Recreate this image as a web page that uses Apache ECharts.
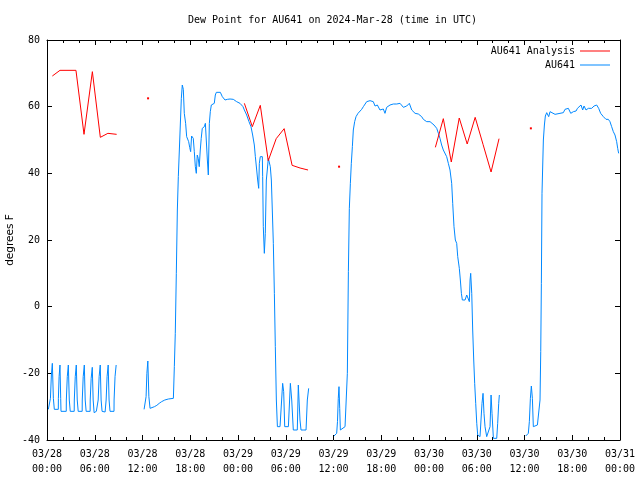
<!DOCTYPE html>
<html><head><meta charset="utf-8">
<script src="https://cdn.jsdelivr.net/npm/echarts@6/dist/echarts.min.js"></script>
<style>html,body{margin:0;padding:0;background:#fff}#c{width:640px;height:480px}</style>
</head><body><div id="c"></div>
<script>
// x values are hours since 2024-03-28 00:00 UTC
const xTickLabels = ['03/28\n00:00','03/28\n06:00','03/28\n12:00','03/28\n18:00','03/29\n00:00','03/29\n06:00','03/29\n12:00','03/29\n18:00','03/30\n00:00','03/30\n06:00','03/30\n12:00','03/30\n18:00','03/31\n00:00'];
const yTicks = [-40,-20,0,20,40,60,80];

const analysisA = [[0.67,69.2],[1.63,70.9],[2.64,70.9],[3.64,70.9],[4.65,51.7],[5.7,70.5],[6.7,50.8],[7.65,52],[8.75,51.7]];
const analysisB = [[24.8,61],[25.8,54],[26.8,60.4],[27.8,43.8],[28.8,50.4],[29.8,53.4],[30.8,42.4],[31.8,41.6],[32.8,41]];
const analysisC = [[48.8,47.8],[49.8,56.4],[50.8,43.4],[51.8,56.6],[52.8,48.8],[53.8,56.8],[54.8,48.6],[55.8,40.4],[56.8,50.4]];
const analysisDots = [[12.7,62.5],[36.7,42],[60.8,53.5]];

const obsA = [[0.17,-30.8],[0.42,-30.8],[0.43,-27.5],[0.55,-20.5],[0.67,-17],[0.8,-27.5],[0.92,-30.8],
 [1.42,-30.8],[1.43,-27.5],[1.52,-21],[1.63,-17.5],[1.72,-27.5],[1.76,-31.4],
 [2.42,-31.4],[2.43,-28],[2.55,-21],[2.68,-17.5],[2.8,-28],[2.92,-31.4],
 [3.42,-31.4],[3.43,-28],[3.55,-21],[3.68,-17.5],[3.8,-28],[3.92,-31.4],
 [4.42,-31.4],[4.43,-28],[4.55,-21],[4.69,-17.5],[4.8,-28],[4.92,-31.4],
 [5.42,-31.4],[5.43,-28],[5.55,-21.5],[5.69,-18.2],[5.8,-28],[5.92,-31.8],[6.1,-31.8],[6.2,-31.4],
 [6.42,-31.4],[6.43,-28],[6.55,-21],[6.69,-17.5],[6.8,-28],[6.92,-31.4],
 [7.3,-31.6],[7.42,-32],[7.43,-28],[7.55,-21],[7.69,-17.5],[7.8,-28],[7.92,-31.4],
 [8.42,-31.4],[8.43,-28],[8.55,-21],[8.69,-17.5]];
const obsB = [[12.2,-30.8],[12.45,-27],[12.55,-20],[12.67,-16.3],[12.8,-27],[12.95,-30.5],[13.0,-30.2],[13.5,-30],[13.8,-29.6],[14.1,-29],[14.4,-28.5],[14.8,-28],[15.25,-27.7],[15.88,-27.5],[16.0,-18],[16.12,-8],[16.25,10],[16.38,29],[16.5,39],[16.63,47],[16.75,54.5],[16.88,62.5],[17.0,66.5],[17.13,65.2],[17.25,58],[17.42,55],[17.55,51],[17.67,51],[17.8,49.5],[17.93,47.8],[18.05,46.5],[18.17,51.2],[18.3,51.2],[18.38,50.5],[18.51,46.5],[18.64,42],[18.76,40],[18.88,45.5],[19.0,44.5],[19.13,42],[19.26,47],[19.38,50.5],[19.51,53.5],[19.64,54],[19.77,54],[19.9,55],[20.02,55.2],[20.15,44],[20.27,39.5],[20.4,55],[20.52,58.5],[20.65,60.5],[20.78,60.5],[20.9,60],[21.02,61],[21.15,63.5],[21.28,64.3],[21.5,64.3],[21.78,64.3],[22.03,63],[22.2,62.5],[22.37,62],[22.54,61.5],[22.66,62.2],[22.79,62.5],[23.0,62.3],[23.2,62.2],[23.41,62.2],[23.62,61.8],[23.83,61.5],[24.04,61.2],[24.25,61],[24.46,60.5],[24.63,60],[24.8,59],[25.09,57.5],[25.38,55.5],[25.63,54],[25.84,51.5],[26.05,48.5],[26.18,45],[26.35,41],[26.47,38],[26.6,35.5],[26.68,43],[26.8,45],[27.06,45],[27.1,39],[27.18,24],[27.31,16],[27.43,22],[27.56,38],[27.68,41],[27.81,44.5],[27.93,44],[28.06,42],[28.19,38],[28.31,29],[28.44,19],[28.57,4],[28.69,-12],[28.82,-28],[28.95,-36],[29.1,-36.5],[29.28,-36],[29.49,-36],[29.61,-23],[29.74,-25.5],[29.87,-36],[30.1,-36],[30.33,-36],[30.45,-36],[30.58,-23],[30.75,-28],[30.95,-37],[31.2,-37],[31.45,-37],[31.58,-23.5],[31.79,-34],[31.92,-37],[32.2,-37],[32.55,-37],[32.71,-28],[32.88,-24.5]];
const obsC = [[36.06,-38.8],[36.4,-38],[36.5,-34.5],[36.6,-27.5],[36.69,-24],[36.78,-30.5],[36.86,-37],[37.0,-36.5],[37.45,-36],[37.66,-35.5],[37.74,-20],[37.87,10.5],[37.99,29.5],[38.12,37],[38.24,43],[38.37,48],[38.49,53],[38.66,55.5],[38.83,57],[39.08,58],[39.25,58.5],[39.33,58],[39.54,59.2],[39.75,60],[40.17,61.5],[40.59,61.8],[41.0,61.5],[41.22,60.2],[41.51,60.5],[41.84,59],[42.05,58.5],[42.26,59.3],[42.47,58],[42.68,59.8],[43.1,60.5],[43.52,60.8],[43.73,60.2],[43.94,60.8],[44.36,61],[44.78,59.8],[45.2,60.2],[45.53,61],[45.83,59],[46.25,58],[46.66,57.8],[46.87,57.5],[47.08,57],[47.29,56.2],[47.5,56],[47.71,55.5],[48.13,55.5],[48.34,55.5],[48.63,54.5],[48.97,53.5],[49.18,52],[49.38,50.5],[49.59,48.5],[49.8,47],[50.01,46.5],[50.22,45],[50.43,43],[50.64,41],[50.85,37],[50.98,31],[51.14,24],[51.31,20],[51.48,19],[51.61,15],[51.81,11.5],[51.94,8],[52.07,4],[52.19,2],[52.32,1.5],[52.53,2],[52.74,3.5],[52.95,3],[53.07,1.5],[53.16,8],[53.24,10],[53.37,4],[53.49,-7],[53.62,-16],[53.74,-23],[53.87,-29],[54.0,-35],[54.12,-38.5],[54.25,-38.5],[54.41,-39],[54.54,-39],[54.66,-29],[54.79,-26],[54.91,-32],[55.04,-36],[55.25,-39],[55.46,-39],[55.67,-36],[55.8,-26.5],[55.92,-32],[56.09,-39.5],[56.3,-39.5],[56.51,-39.5],[56.63,-35],[56.76,-29],[56.84,-26.5]];
const obsD = [[60.15,-38.8],[60.48,-38],[60.61,-34.5],[60.74,-27.5],[60.86,-23.8],[60.99,-27.5],[61.11,-36],[61.32,-36],[61.62,-35.5],[61.87,-35],[61.95,-28],[62.04,-13.5],[62.12,7],[62.2,34],[62.37,50],[62.5,54.5],[62.62,57.2],[62.79,58.2],[63.04,57],[63.21,58.5],[63.42,58],[63.84,57.7],[64.46,58],[64.88,58.2],[65.09,59.2],[65.51,59.5],[65.81,58],[66.14,58.5],[66.48,58.7],[66.65,59.5],[66.9,59],[67.1,60.5],[67.31,59],[67.48,60.2],[67.73,59],[68.02,59.5],[68.44,59.5],[68.74,60.2],[69.07,60.5],[69.32,59.5],[69.57,58],[69.91,57],[70.24,56.2],[70.53,56.2],[70.74,55.5],[70.95,54],[71.16,52.5],[71.37,51.5],[71.58,49.5],[71.71,47.5],[71.83,46]];

function joinSegments(segs) {
  const out = [];
  segs.forEach((s, i) => {
    const first = Array.isArray(s[0]) ? s[0] : s[0].value;
    if (i > 0) out.push([first[0], null]);
    s.forEach(p => out.push(p));
  });
  return out;
}
const dot = p => [{value: p, symbol: 'rect', symbolSize: 2}];
const redData = joinSegments([analysisA, dot(analysisDots[0]), analysisB, dot(analysisDots[1]), analysisC, dot(analysisDots[2])]);
const blueData = joinSegments([obsA, obsB, obsC, obsD]);

const FONT = 'DejaVu Sans Mono';
const chart = echarts.init(document.getElementById('c'), null, {renderer: 'canvas'});
const axisCommon = {
  type: 'value', min: 0, max: 72, interval: 6,
  axisLine: {show: true, onZero: false, lineStyle: {color: '#000', width: 1}},
  axisTick: {show: true, inside: true, length: 5, lineStyle: {color: '#000'}},
  minorTick: {show: true, splitNumber: 3, length: 3, lineStyle: {color: '#000'}},
  splitLine: {show: false}
};
const yCommon = {
  type: 'value', min: -40, max: 80, interval: 20,
  axisLine: {show: true, onZero: false, lineStyle: {color: '#000', width: 1}},
  axisTick: {show: true, inside: true, length: 5, lineStyle: {color: '#000'}},
  splitLine: {show: false}
};
chart.setOption({
  animation: false,
  backgroundColor: '#fff',
  title: {
    text: 'Dew Point for AU641 on 2024-Mar-28 (time in UTC)',
    left: 183, top: 10,
    textStyle: {fontFamily: FONT, fontSize: 10, fontWeight: 'normal', color: '#000'}
  },
  grid: {left: 47, right: 20, top: 40, bottom: 40, containLabel: false, outerBoundsMode: 'none'},
  legend: {
    orient: 'vertical', right: 25, top: 41, align: 'right',
    itemWidth: 30, itemHeight: 10, itemGap: 4,
    icon: 'path://M0,0H30V1H0Z',
    textStyle: {fontFamily: FONT, fontSize: 10, color: '#000'},
    data: ['AU641 Analysis', 'AU641']
  },
  xAxis: [
    Object.assign({}, axisCommon, {
      position: 'bottom',
      axisLabel: {
        margin: 7, fontFamily: FONT, fontSize: 10, color: '#000', lineHeight: 15,
        formatter: v => xTickLabels[Math.round(v / 6)] || ''
      }
    }),
    Object.assign({}, axisCommon, {position: 'top', axisLabel: {show: false}})
  ],
  yAxis: [
    Object.assign({}, yCommon, {
      position: 'left',
      name: 'degrees F', nameLocation: 'middle', nameGap: 31, nameRotate: 90,
      nameMoveOverlap: false,
      nameTextStyle: {fontFamily: 'DejaVu Sans', fontSize: 10.5, color: '#000'},
      axisLabel: {margin: 7, fontFamily: FONT, fontSize: 10, color: '#000'}
    }),
    Object.assign({}, yCommon, {position: 'right', axisLabel: {show: false}})
  ],
  series: [
    {
      name: 'AU641 Analysis', type: 'line', data: redData,
      symbol: 'none', connectNulls: false,
      lineStyle: {color: '#ff0000', width: 1}, itemStyle: {color: '#ff0000'},
      z: 3
    },
    {
      name: 'AU641', type: 'line', data: blueData,
      symbol: 'none', connectNulls: false,
      lineStyle: {color: '#0088ff', width: 1}, itemStyle: {color: '#0088ff'},
      z: 2
    }
  ]
});
</script></body></html>
